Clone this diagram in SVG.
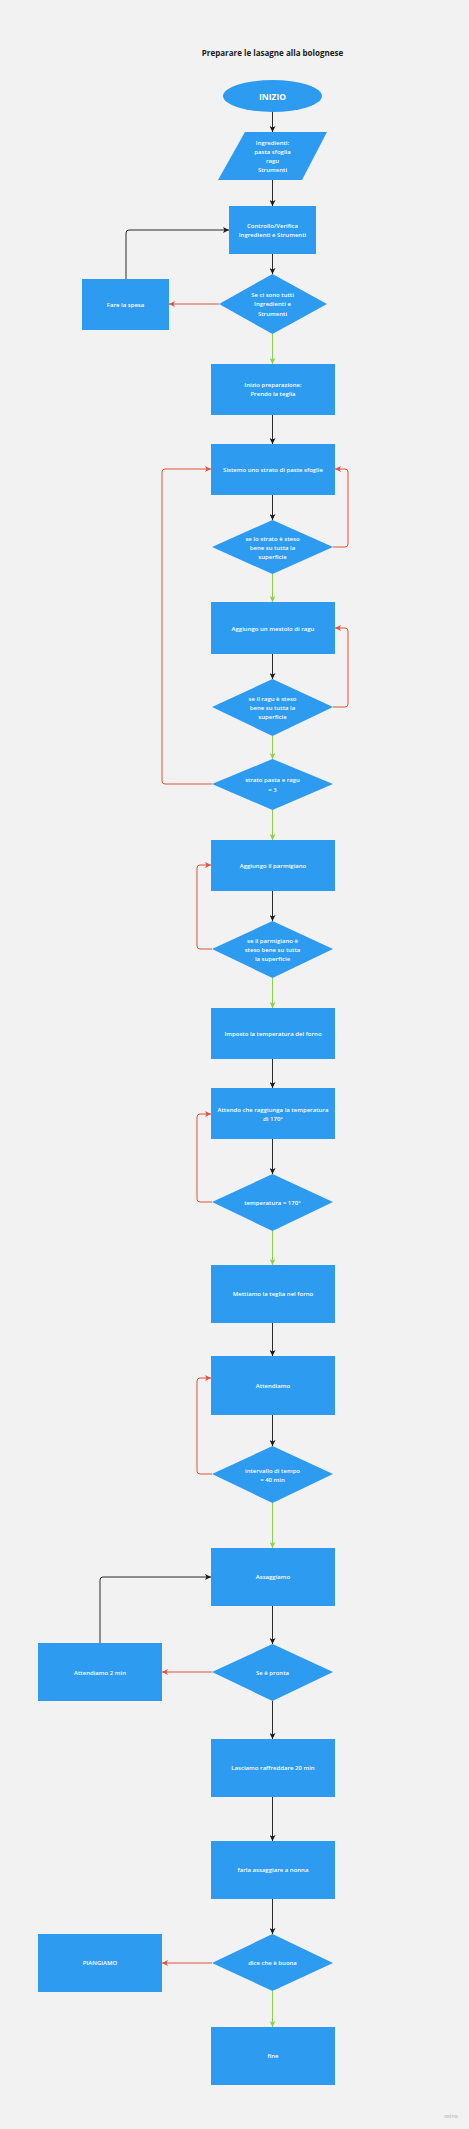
<svg xmlns="http://www.w3.org/2000/svg" width="469" height="2129" viewBox="0 0 469 2129">
<defs>
<style>
.bg{fill:#f2f2f2}
.n{fill:#2d9bf0}
.t{fill:#ffffff;font-family:"Open Sans","Liberation Sans",sans-serif;font-size:6px;font-weight:600;text-anchor:middle;dominant-baseline:central}
.tb{font-weight:bold;font-size:8.5px}
.title{fill:#1a1a1a;font-family:"Open Sans","Liberation Sans",sans-serif;font-size:8px;font-weight:bold;text-anchor:middle;dominant-baseline:central}
.k{fill:none;stroke:#2b2b2b;stroke-width:1;marker-end:url(#ak)}
.r{fill:none;stroke:#e0533a;stroke-width:1;marker-end:url(#ar)}
.g{fill:none;stroke:#8fd14f;stroke-width:1;marker-end:url(#ag)}
.wm{fill:#c8c8c8;font-family:"Open Sans","Liberation Sans",sans-serif;font-size:6px;font-weight:bold;text-anchor:middle;dominant-baseline:central}
</style>
<marker id="ak" viewBox="0 0 6 6" refX="6" refY="3" markerWidth="6" markerHeight="6" markerUnits="userSpaceOnUse" orient="auto"><path d="M0,0 L6,3 L0,6 L1.5,3 z" fill="#1a1a1a"/></marker>
<marker id="ar" viewBox="0 0 6 6" refX="6" refY="3" markerWidth="6" markerHeight="6" markerUnits="userSpaceOnUse" orient="auto"><path d="M0,0 L6,3 L0,6 L1.5,3 z" fill="#e0533a"/></marker>
<marker id="ag" viewBox="0 0 6 6" refX="6" refY="3" markerWidth="6" markerHeight="6" markerUnits="userSpaceOnUse" orient="auto"><path d="M0,0 L6,3 L0,6 L1.5,3 z" fill="#8fd14f"/></marker>
</defs>
<rect class="bg" x="0" y="0" width="469" height="2129"/>
<text class="title" x="272.5" y="52">Preparare le lasagne alla bolognese</text>

<g id="connectors">
<path class="k" d="M272.5,112 V132"/>
<path class="k" d="M272.5,180 V206"/>
<path class="k" d="M272.5,254 V274"/>
<path class="r" d="M219,304 H169"/>
<path class="k" d="M126,279 V233 Q126,230 129,230 H229"/>
<path class="g" d="M272.5,334 V364"/>
<path class="k" d="M272.5,415 V444"/>
<path class="k" d="M272.5,495 V520"/>
<path class="r" d="M333,547 H345 Q348,547 348,544 V472 Q348,469 345,469 H335"/>
<path class="g" d="M272.5,574 V602"/>
<path class="k" d="M272.5,654 V679"/>
<path class="r" d="M333,707 H345 Q348,707 348,704 V631 Q348,628 345,628 H335"/>
<path class="g" d="M272.5,736 V759"/>
<path class="r" d="M212,784 H165 Q162,784 162,781 V472 Q162,469 165,469 H211"/>
<path class="g" d="M272.5,810 V840"/>
<path class="k" d="M272.5,891 V921"/>
<path class="r" d="M212,949 H200 Q197,949 197,946 V868 Q197,865 200,865 H211"/>
<path class="g" d="M272.5,978 V1008"/>
<path class="k" d="M272.5,1059 V1088"/>
<path class="k" d="M272.5,1139 V1174"/>
<path class="r" d="M212,1202 H200 Q197,1202 197,1199 V1117 Q197,1114 200,1114 H211"/>
<path class="g" d="M272.5,1231 V1265"/>
<path class="k" d="M272.5,1323 V1356"/>
<path class="k" d="M272.5,1415 V1446"/>
<path class="r" d="M212,1474 H200 Q197,1474 197,1471 V1381 Q197,1378 200,1378 H211"/>
<path class="g" d="M272.5,1503 V1548"/>
<path class="k" d="M272.5,1606 V1644"/>
<path class="r" d="M212,1672 H162"/>
<path class="k" d="M100,1643 V1580 Q100,1577 103,1577 H211"/>
<path class="k" d="M272.5,1701 V1739"/>
<path class="k" d="M272.5,1797 V1841"/>
<path class="k" d="M272.5,1899 V1934"/>
<path class="r" d="M212,1963 H162"/>
<path class="g" d="M272.5,1991 V2027"/>
</g>

<g id="inizio"><ellipse class="n" cx="272.5" cy="96" rx="49.5" ry="16"/><text class="t tb" x="272.5" y="96">INIZIO</text></g>
<g id="ingredienti"><polygon class="n" points="245,132 327,132 302,180 218,180"/>
<text class="t" x="272.5" y="142.5">Ingredienti:</text><text class="t" x="272.5" y="151.5">pasta sfoglia</text><text class="t" x="272.5" y="160.5">ragu</text><text class="t" x="272.5" y="169.5">Strumenti</text></g>
<g id="controllo"><rect class="n" x="229" y="206" width="87" height="48"/><text class="t" x="272.5" y="225.5">Controllo/Verifica</text><text class="t" x="272.5" y="234.5">Ingredienti e Strumenti</text></g>
<g id="d-tutti"><polygon class="n" points="272.5,274 327,304 272.5,334 219,304"/><text class="t" x="272.5" y="294.5">Se ci sono tutti</text><text class="t" x="272.5" y="304">Ingredienti e</text><text class="t" x="272.5" y="313.5">Strumenti</text></g>
<g id="spesa"><rect class="n" x="82" y="279" width="87" height="51"/><text class="t" x="125.5" y="304.5">Fare la spesa</text></g>
<g id="prep"><rect class="n" x="211" y="364" width="124" height="51"/><text class="t" x="273" y="384.5">Inizio preparazione:</text><text class="t" x="273" y="393.5">Prendo la teglia</text></g>
<g id="sistemo"><rect class="n" x="211" y="444" width="124" height="51"/><text class="t" x="273" y="469.5">Sistemo uno strato di paste sfoglie</text></g>
<g id="d-strato"><polygon class="n" points="272.5,520 333,547 272.5,574 212,547"/><text class="t" x="272.5" y="538.5">se lo strato è steso</text><text class="t" x="272.5" y="547.5">bene su tutta la</text><text class="t" x="272.5" y="556.5">superficie</text></g>
<g id="mestolo"><rect class="n" x="211" y="602" width="124" height="52"/><text class="t" x="273" y="628.5">Aggiungo un mestolo di ragu</text></g>
<g id="d-ragu"><polygon class="n" points="272.5,679 333,707 272.5,736 212,707"/><text class="t" x="272.5" y="698.5">se il ragu è steso</text><text class="t" x="272.5" y="707.5">bene su tutta la</text><text class="t" x="272.5" y="716.5">superficie</text></g>
<g id="d-3"><polygon class="n" points="272.5,759 333,784 272.5,810 212,784"/><text class="t" x="272.5" y="780">strato pasta e ragu</text><text class="t" x="272.5" y="789.5">= 3</text></g>
<g id="parmigiano"><rect class="n" x="211" y="840" width="124" height="51"/><text class="t" x="273" y="865.5">Aggiungo il parmigiano</text></g>
<g id="d-parm"><polygon class="n" points="272.5,921 333,949 272.5,978 212,949"/><text class="t" x="272.5" y="940.5">se il parmigiano è</text><text class="t" x="272.5" y="949.5">steso bene su tutta</text><text class="t" x="272.5" y="958.5">la superficie</text></g>
<g id="imposto"><rect class="n" x="211" y="1008" width="124" height="51"/><text class="t" x="273" y="1033.5">Imposto la temperatura del forno</text></g>
<g id="attendo"><rect class="n" x="211" y="1088" width="124" height="51"/><text class="t" x="273" y="1109.5">Attendo che raggiunga la temperatura</text><text class="t" x="273" y="1118.5">di 170°</text></g>
<g id="d-temp"><polygon class="n" points="272.5,1174 333,1202 272.5,1231 212,1202"/><text class="t" x="272.5" y="1202.5">temperatura = 170°</text></g>
<g id="mettiamo"><rect class="n" x="211" y="1265" width="124" height="58"/><text class="t" x="273" y="1293.5">Mettiamo la teglia nel forno</text></g>
<g id="attendiamo"><rect class="n" x="211" y="1356" width="124" height="59"/><text class="t" x="273" y="1385.5">Attendiamo</text></g>
<g id="d-tempo"><polygon class="n" points="272.5,1446 333,1474 272.5,1503 212,1474"/><text class="t" x="272.5" y="1470.5">intervallo di tempo</text><text class="t" x="272.5" y="1479.5">= 40 min</text></g>
<g id="assaggiamo"><rect class="n" x="211" y="1548" width="124" height="58"/><text class="t" x="273" y="1576.5">Assaggiamo</text></g>
<g id="d-pronta"><polygon class="n" points="272.5,1644 333,1672 272.5,1701 212,1672"/><text class="t" x="272.5" y="1672.5">Se è pronta</text></g>
<g id="attendiamo2"><rect class="n" x="38" y="1643" width="124" height="58"/><text class="t" x="100" y="1672.5">Attendiamo 2 min</text></g>
<g id="lasciamo"><rect class="n" x="211" y="1739" width="124" height="58"/><text class="t" x="273" y="1767.5">Lasciamo raffreddare 20 min</text></g>
<g id="farla"><rect class="n" x="211" y="1841" width="124" height="58"/><text class="t" x="273" y="1869.5">farla assaggiare a nonna</text></g>
<g id="d-buona"><polygon class="n" points="272.5,1934 333,1963 272.5,1991 212,1963"/><text class="t" x="272.5" y="1963">dice che è buona</text></g>
<g id="piangiamo"><rect class="n" x="38" y="1934" width="124" height="58"/><text class="t" x="100" y="1963">PIANGIAMO</text></g>
<g id="fine"><rect class="n" x="211" y="2027" width="124" height="58"/><text class="t" x="273" y="2055.5">fine</text></g>
<text class="wm" x="451" y="2116">miro</text>
</svg>
